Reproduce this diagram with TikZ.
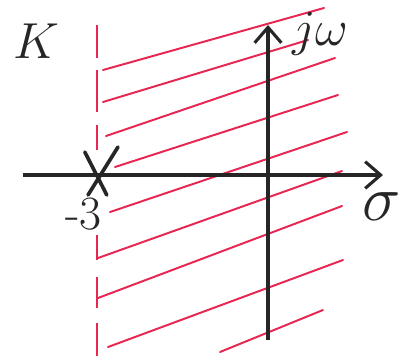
\RequirePackage{fix-cm}
\documentclass[tikz,border=0pt]{standalone}
\usepackage{tikz}
\usetikzlibrary{arrows.meta}

\definecolor{penred}{RGB}{232,38,82}
\definecolor{penblack}{RGB}{38,38,38}

\begin{document}
\begin{tikzpicture}[scale=1.0,
		axis/.style={line width=2.6pt, penblack, -{Straight Barb[length=11pt,width=19pt,line width=2.2pt]}},
		pole/.style={line width=2.6pt, penblack, line cap=round},
		hatch/.style={line width=1.4pt, penred, line cap=round},
		limit/.style={line width=2.1pt, penred},
		lbl/.style={penblack, inner sep=0pt}]
		\useasboundingbox (-6.7,-4.65) rectangle (3.3,4.375);
		% boundary Re(s) = -3, drawn in pieces
		\draw [limit] (-4.275,3.75) -- (-4.275,2.925) (-4.275,2.625) -- (-4.275,1.575) (-4.275,1.25) -- (-4.275,0.625);
		\draw [limit] (-4.275,-1.5) -- (-4.275,-2.125) (-4.275,-2.55) -- (-4.275,-3.325) (-4.275,-3.7) -- (-4.275,-4.525);
		% hatching of the region right of the boundary
		\draw [hatch] (-4.125,2.625) -- (1.4,4.175);
		\draw [hatch] (-4.125,1.825) -- (1.0,3.375);
		\draw [hatch] (-4.05,0.975) -- (1.675,2.925);
		\draw [hatch] (-3.825,0.2) -- (1.75,2.0);
		\draw [hatch] (-3.95,-0.925) -- (1.975,1.075);
		\draw [hatch] (-4.25,-2.075) -- (1.85,0.1);
		\draw [hatch] (-4.25,-3.075) -- (1.85,-0.775);
		\draw [hatch] (-4.0,-4.3) -- (1.875,-2.125);
		\draw [hatch] (-1.2,-4.425) -- (1.375,-3.375);
		% axes
		\draw [axis] (-6.125,0) -- (2.875,0);
		\draw [axis] (0,-4.125) -- (0,3.75);
		% pole at s = -3
		\draw [pole] (-4.58,0.575) -- (-4.03,-0.5);
		\draw [pole] (-3.75,0.7) -- (-4.5,-0.5);
		% labels
		\node [lbl, font=\fontsize{36}{42}\selectfont] (gain) at (-5.8,3.35) {$K$};
		\node [lbl, font=\fontsize{36}{42}\selectfont, anchor=base west] (imag) at (0.6,3.25) {$j\omega$};
		\node [lbl, font=\fontsize{46}{52}\selectfont] (real) at (2.85,-0.8) {$\sigma$};
		\node [lbl, font=\fontsize{34}{40}\selectfont] (polelbl) at (-4.62,-0.97) {-3};
	\end{tikzpicture}
\end{document}
